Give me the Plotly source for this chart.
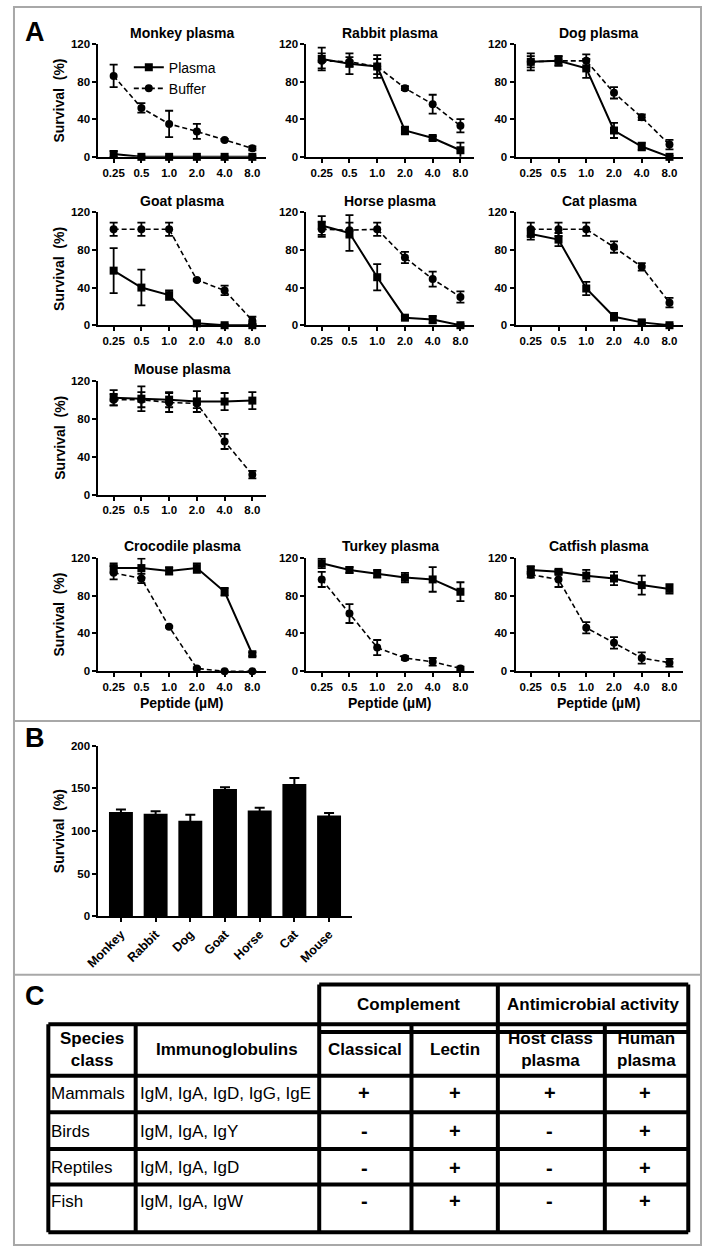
import plotly.graph_objects as go

W, H = 702, 1252
FONT = "Liberation Sans, Arial, sans-serif"

# ---------------- DATA ----------------
doses = ["0.25", "0.5", "1.0", "2.0", "4.0", "8.0"]

monkey_plasma = [3, 0, 0, 0, 0, 0]
monkey_plasma_err = [3, 0.5, 0.5, 0.5, 0.5, 0.5]
monkey_buffer = [86, 52, 35, 27, 18, 9]
monkey_buffer_err = [12, 5, 14, 8, 1, 2]

rabbit_plasma = [104, 99, 96, 28, 20, 7]
rabbit_plasma_err = [12, 11, 12, 4, 2, 8]
rabbit_buffer = [102, 101, 96, 73, 56, 33]
rabbit_buffer_err = [8, 5, 8, 2, 10, 7]

dog_plasma = [101, 102, 94, 28, 11, 0]
dog_plasma_err = [9, 5, 10, 8, 4, 1]
dog_buffer = [101, 102, 102, 68, 42, 13]
dog_buffer_err = [6, 5, 7, 6, 3, 5]

goat_plasma = [58, 40, 32, 2, 0, 0]
goat_plasma_err = [24, 19, 5, 2, 1, 1]
goat_buffer = [102, 102, 102, 48, 37, 5]
goat_buffer_err = [7, 7, 7, 1, 5, 4]

horse_plasma = [106, 98, 51, 8, 6, 0]
horse_plasma_err = [10, 19, 14, 2, 4, 1]
horse_buffer = [102, 101, 102, 72, 49, 30]
horse_buffer_err = [8, 8, 7, 6, 8, 6]

cat_plasma = [97, 91, 39, 9, 3, 0]
cat_plasma_err = [6, 7, 7, 4, 2, 1]
cat_buffer = [102, 102, 102, 83, 62, 24]
cat_buffer_err = [7, 7, 7, 6, 4, 5]

mouse_plasma = [102, 101, 100, 98, 98, 99]
mouse_plasma_err = [8, 13, 8, 11, 9, 9]
mouse_buffer = [100, 100, 97, 96, 56, 21]
mouse_buffer_err = [6, 8, 10, 5, 8, 4]

croc_plasma = [109, 109, 106, 109, 84, 18]
croc_plasma_err = [5, 10, 4, 5, 4, 2]
croc_buffer = [104, 98, 47, 3, 0, 0]
croc_buffer_err = [7, 5, 1, 1, 0.5, 0.5]

turkey_plasma = [114, 107, 103, 99, 97, 84]
turkey_plasma_err = [5, 3, 4, 5, 13, 10]
turkey_buffer = [97, 61, 25, 14, 10, 3]
turkey_buffer_err = [8, 10, 8, 2, 4, 2]

catfish_plasma = [107, 105, 101, 98, 91, 87]
catfish_plasma_err = [4, 2, 6, 7, 10, 5]
catfish_buffer = [102, 97, 46, 30, 14, 9]
catfish_buffer_err = [3, 8, 6, 6, 6, 4]

titles = ["Monkey plasma", "Rabbit plasma", "Dog plasma",
          "Goat plasma", "Horse plasma", "Cat plasma",
          "Mouse plasma",
          "Crocodile plasma", "Turkey plasma", "Catfish plasma"]

a_ticks = [0, 40, 80, 120]

b_species = ["Monkey", "Rabbit", "Dog", "Goat", "Horse", "Cat", "Mouse"]
b_survival = [122, 120, 112, 149, 124, 155, 118]
b_survival_err = [3, 3, 7, 2, 3, 7, 3]
b_ticks = [0, 50, 100, 150, 200]

table_top_headers = ["Complement", "Antimicrobial activity"]
table_headers = ["Species<br>class", "Immunoglobulins", "Classical", "Lectin",
                 "Host class<br>plasma", "Human<br>plasma"]
table_species = ["Mammals", "Birds", "Reptiles", "Fish"]
table_igs = ["IgM, IgA, IgD, IgG, IgE", "IgM, IgA, IgY", "IgM, IgA, IgD", "IgM, IgA, IgW"]
table_classical = ["+", "-", "-", "-"]
table_lectin = ["+", "+", "+", "+"]
table_host = ["+", "-", "-", "-"]
table_human = ["+", "+", "+", "+"]

# ---------------- LAYOUT HELPERS ----------------
def px(x):
    return x / W

def py(y):
    return 1 - y / H

series = [
    (monkey_plasma, monkey_plasma_err, monkey_buffer, monkey_buffer_err),
    (rabbit_plasma, rabbit_plasma_err, rabbit_buffer, rabbit_buffer_err),
    (dog_plasma, dog_plasma_err, dog_buffer, dog_buffer_err),
    (goat_plasma, goat_plasma_err, goat_buffer, goat_buffer_err),
    (horse_plasma, horse_plasma_err, horse_buffer, horse_buffer_err),
    (cat_plasma, cat_plasma_err, cat_buffer, cat_buffer_err),
    (mouse_plasma, mouse_plasma_err, mouse_buffer, mouse_buffer_err),
    (croc_plasma, croc_plasma_err, croc_buffer, croc_buffer_err),
    (turkey_plasma, turkey_plasma_err, turkey_buffer, turkey_buffer_err),
    (catfish_plasma, catfish_plasma_err, catfish_buffer, catfish_buffer_err),
]
grid = [(1, 1), (1, 2), (1, 3), (2, 1), (2, 2), (2, 3), (3, 1), (4, 1), (4, 2), (4, 3)]
col_x = {1: (87, 258), 2: (299, 470), 3: (512, 683)}
row_y = {1: (38.3, 152.3), 2: (208.3, 322.3), 3: (378.3, 493.3), 4: (557, 671.7)}

fig = go.Figure()
layout = dict()
annotations = []
shapes = []

axis_common = dict(
    showline=True, linecolor="black", linewidth=2, ticks="outside", ticklen=4,
    tickwidth=2, tickcolor="black", showgrid=False, zeroline=False,
    tickfont=dict(family=FONT, size=11.5, color="black", weight="bold"),
    fixedrange=True,
)

for i, ((pl, ple, bu, bue), (r, c), title) in enumerate(zip(series, grid, titles), start=1):
    xn = "x" if i == 1 else f"x{i}"
    yn = "y" if i == 1 else f"y{i}"
    x0, x1 = col_x[c]
    y0, y1 = row_y[r]
    fig.add_trace(go.Scatter(
        x=doses, y=pl, xaxis=xn, yaxis=yn, name="Plasma", legendgroup="p",
        showlegend=(i == 1), mode="lines+markers", cliponaxis=False,
        line=dict(color="black", width=2),
        marker=dict(symbol="square", size=8, color="black"),
        error_y=dict(type="data", array=ple, color="black", thickness=1.8, width=4),
    ))
    fig.add_trace(go.Scatter(
        x=doses, y=bu, xaxis=xn, yaxis=yn, name="Buffer", legendgroup="b",
        showlegend=(i == 1), mode="lines+markers", cliponaxis=False,
        line=dict(color="black", width=1.6, dash="5px,3px"),
        marker=dict(symbol="circle", size=8, color="black"),
        error_y=dict(type="data", array=bue, color="black", thickness=1.8, width=4),
    ))
    layout["xaxis" if i == 1 else f"xaxis{i}"] = dict(
        axis_common, domain=[px(x0), px(x1)], anchor=yn, type="category",
        categoryorder="array", categoryarray=doses, range=[-0.55, 5.5],
    )
    layout["yaxis" if i == 1 else f"yaxis{i}"] = dict(
        axis_common, domain=[py(y1), py(y0)], anchor=xn, range=[0, 120],
        tickvals=a_ticks,
    )
    annotations.append(dict(
        text=title, x=px((x0 + x1) / 2), y=py(y0 - 11.5), xref="paper", yref="paper",
        showarrow=False, xanchor="center", yanchor="middle",
        font=dict(family=FONT, size=14, color="black", weight="bold"),
    ))
    if c == 1:
        annotations.append(dict(
            text="Survival\u00a0 (%)", x=px(47), y=py((y0 + y1) / 2), xref="paper",
            yref="paper", showarrow=False, textangle=-90, xanchor="center",
            yanchor="middle", font=dict(family=FONT, size=14, color="black", weight="bold"),
        ))
    if r == 4:
        annotations.append(dict(
            text="Peptide (µM)", x=px((x0 + x1) / 2), y=py(704), xref="paper",
            yref="paper", showarrow=False, xanchor="center", yanchor="middle",
            font=dict(family=FONT, size=14, color="black", weight="bold"),
        ))

# ---------------- PANEL B ----------------
fig.add_trace(go.Bar(
    x=b_species, y=b_survival, xaxis="x11", yaxis="y11", showlegend=False,
    marker=dict(color="black", line=dict(width=0)), width=0.69,
    error_y=dict(type="data", array=b_survival_err, color="black", thickness=2, width=5),
))
layout["xaxis11"] = dict(
    axis_common, domain=[px(87), px(345)], anchor="y11", type="category",
    categoryorder="array", categoryarray=b_species, range=[-0.65, 6.65], tickangle=-45,
    tickfont=dict(family=FONT, size=12.5, color="black", weight="bold"),
)
layout["yaxis11"] = dict(
    axis_common, domain=[py(919), py(746.7)], anchor="x11", range=[0, 200],
    tickvals=b_ticks,
)
annotations.append(dict(
    text="Survival\u00a0 (%)", x=px(47), y=py(833), xref="paper", yref="paper",
    showarrow=False, textangle=-90, xanchor="center", yanchor="middle",
    font=dict(family=FONT, size=14, color="black", weight="bold"),
))

# ---------------- PANEL LETTERS ----------------
for letter, yy in [("A", 26), ("B", 739), ("C", 1000)]:
    annotations.append(dict(
        text=letter, x=px(22), y=py(yy), xref="paper", yref="paper", showarrow=False,
        xanchor="center", yanchor="middle",
        font=dict(family=FONT, size=27, color="black", weight="bold"),
    ))

# ---------------- FRAME ----------------
gray = "#a8a8a8"
shapes.append(dict(type="rect", xref="paper", yref="paper", x0=px(1), x1=px(701),
                   y0=py(1251), y1=py(1), line=dict(color=gray, width=2)))
for yy in (722, 978):
    shapes.append(dict(type="line", xref="paper", yref="paper", x0=px(1), x1=px(701),
                       y0=py(yy), y1=py(yy), line=dict(color=gray, width=2)))

# ---------------- TABLE C ----------------
def tline(xa, ya, xb, yb, w=4):
    shapes.append(dict(type="line", xref="paper", yref="paper", x0=px(xa), x1=px(xb),
                       y0=py(ya), y1=py(yb), line=dict(color="black", width=w)))

tline(312, 988, 688, 988)
tline(312, 988, 312, 1238)
tline(494, 988, 494, 1238)
tline(688, 988, 688, 1238)
tline(36, 1028, 688, 1028)
tline(312, 1036, 688, 1036)
tline(36, 1028, 36, 1238)
tline(125, 1028, 125, 1238)
tline(406, 1028, 406, 1238)
tline(603, 1028, 603, 1238)
for yy in (1080, 1117, 1154, 1190, 1238):
    tline(36, yy, 688, yy)

def ttext(text, x, y, size, bold=False, anchor="center"):
    annotations.append(dict(
        text=text, x=px(x), y=py(y), xref="paper", yref="paper", showarrow=False,
        xanchor=anchor, yanchor="middle", align="center",
        font=dict(family=FONT, size=size, color="black", weight="bold" if bold else "normal"),
    ))

ttext(table_top_headers[0], 403, 1008, 17, True)
ttext(table_top_headers[1], 591, 1008, 17, True)
header_x = [80.5, 218.5, 359, 450, 548, 645]
for txt, xx in zip(table_headers, header_x):
    ttext(txt, xx, 1054, 17, True)

row_centers = [1098, 1136, 1173, 1207]
for k, yy in enumerate(row_centers):
    ttext(table_species[k], 37, yy, 17, False, "left")
    ttext(table_igs[k], 127, yy, 17, False, "left")
    ttext(table_classical[k], 358, yy, 20, True)
    ttext(table_lectin[k], 450, yy, 20, True)
    ttext(table_host[k], 547, yy, 20, True)
    ttext(table_human[k], 644, yy, 20, True)

fig.update_layout(
    **layout,
    width=W, height=H, margin=dict(l=0, r=0, t=0, b=0),
    paper_bgcolor="white", plot_bgcolor="white",
    font=dict(family=FONT, color="black"),
    showlegend=True,
    legend=dict(x=px(118), y=py(46), xanchor="left", yanchor="top",
                font=dict(family=FONT, size=14, color="black"),
                bgcolor="rgba(0,0,0,0)", itemwidth=30, tracegroupgap=0,
                traceorder="normal"),
    annotations=annotations, shapes=shapes,
)

fig.write_html(
    "out.html",
    config={"displayModeBar": False},
    post_script="document.body.style.margin='0';document.body.style.overflow='hidden';",
)
